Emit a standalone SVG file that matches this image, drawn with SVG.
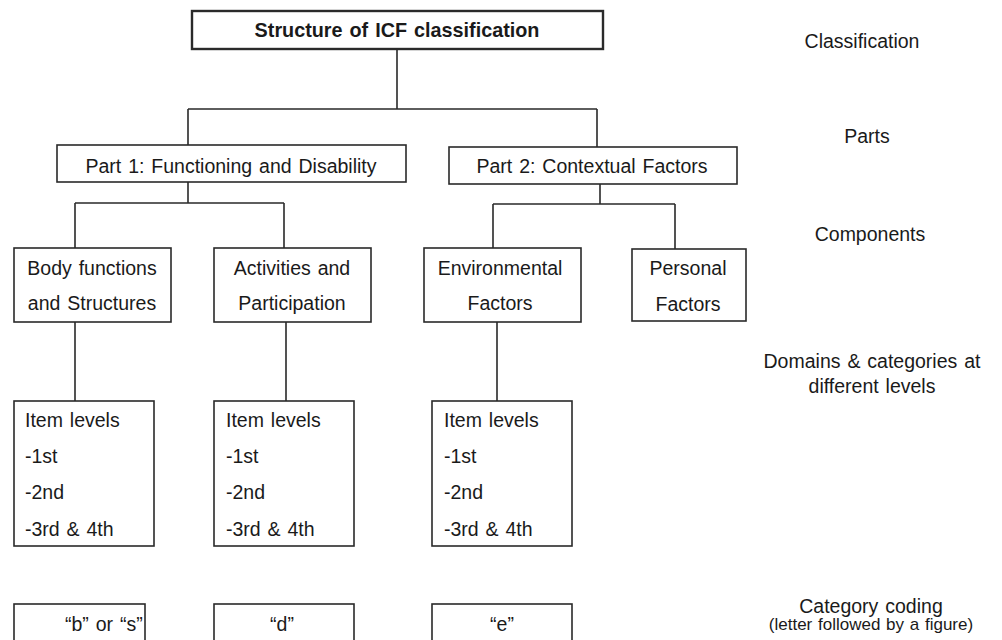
<svg xmlns="http://www.w3.org/2000/svg" width="1002" height="640" viewBox="0 0 1002 640">
<style>
  .box { fill: #fff; stroke: #2a2a2a; stroke-width: 1.6; }
  .tbox { fill: #fff; stroke: #2a2a2a; stroke-width: 2.4; }
  .t { font-family: "Liberation Sans", Arial, sans-serif; font-size: 19.5px; fill: #1a1a1a; word-spacing: 1.5px; }
  .c { text-anchor: middle; }
  .b { font-weight: bold; font-size: 19.8px; }
  .s { font-size: 17px; word-spacing: 1px; }
  .conn { fill: none; stroke: #2a2a2a; stroke-width: 1.6; }
</style>
<rect width="1002" height="640" fill="#fff"/>
<g id="connectors">
  <path class="conn" d="M397,49 V109 M188,109 H597 M188,109 V145 M597,109 V147"/>
  <path class="conn" d="M188,182 V203 M75,203 H284 M75,203 V248 M284,203 V248"/>
  <path class="conn" d="M600,184 V204 M493,204 H675 M493,204 V248 M675,204 V249"/>
  <path class="conn" d="M75,322 V401 M286,322 V401 M497,322 V401"/>
</g>
<g id="title">
  <rect class="tbox" x="192" y="11" width="411" height="38"/>
  <text class="t c b" x="397" y="37">Structure of ICF classification</text>
</g>
<g id="part1">
  <rect class="box" x="57" y="145" width="349" height="37"/>
  <text class="t c" x="231" y="173">Part 1: Functioning and Disability</text>
</g>
<g id="part2">
  <rect class="box" x="449" y="147" width="288" height="37"/>
  <text class="t c" x="592" y="173">Part 2: Contextual Factors</text>
</g>
<g id="body">
  <rect class="box" x="14" y="248" width="157" height="74"/>
  <text class="t c" x="92" y="275">Body functions</text>
  <text class="t c" x="92" y="310">and Structures</text>
</g>
<g id="activities">
  <rect class="box" x="214" y="248" width="157" height="74"/>
  <text class="t c" x="292" y="275">Activities and</text>
  <text class="t c" x="292" y="310">Participation</text>
</g>
<g id="environmental">
  <rect class="box" x="424" y="248" width="157" height="74"/>
  <text class="t c" x="500" y="275">Environmental</text>
  <text class="t c" x="500" y="310">Factors</text>
</g>
<g id="personal">
  <rect class="box" x="632" y="249" width="114" height="72"/>
  <text class="t c" x="688" y="275">Personal</text>
  <text class="t c" x="688" y="311">Factors</text>
</g>
<g id="items1">
  <rect class="box" x="14" y="401" width="140" height="145"/>
  <text class="t" x="25" y="427">Item levels</text>
  <text class="t" x="25" y="463">-1st</text>
  <text class="t" x="25" y="499">-2nd</text>
  <text class="t" x="25" y="536">-3rd &amp; 4th</text>
</g>
<g id="items2">
  <rect class="box" x="214" y="401" width="140" height="145"/>
  <text class="t" x="226" y="427">Item levels</text>
  <text class="t" x="226" y="463">-1st</text>
  <text class="t" x="226" y="499">-2nd</text>
  <text class="t" x="226" y="536">-3rd &amp; 4th</text>
</g>
<g id="items3">
  <rect class="box" x="432" y="401" width="140" height="145"/>
  <text class="t" x="444" y="427">Item levels</text>
  <text class="t" x="444" y="463">-1st</text>
  <text class="t" x="444" y="499">-2nd</text>
  <text class="t" x="444" y="536">-3rd &amp; 4th</text>
</g>
<g id="code1">
  <rect class="box" x="14" y="604" width="131" height="50"/>
  <text class="t" x="65" y="631">“b” or “s”</text>
</g>
<g id="code2">
  <rect class="box" x="214" y="604" width="140" height="50"/>
  <text class="t c" x="282" y="631">“d”</text>
</g>
<g id="code3">
  <rect class="box" x="432" y="604" width="140" height="50"/>
  <text class="t c" x="502" y="631">“e”</text>
</g>
<g id="labels">
  <text class="t c" x="862" y="48">Classification</text>
  <text class="t c" x="867" y="143">Parts</text>
  <text class="t c" x="870" y="241">Components</text>
  <text class="t c" x="872" y="368">Domains &amp; categories at</text>
  <text class="t c" x="872" y="393">different levels</text>
  <text class="t c" x="871" y="613">Category coding</text>
  <text class="t c s" x="871" y="630">(letter followed by a figure)</text>
</g>
</svg>
